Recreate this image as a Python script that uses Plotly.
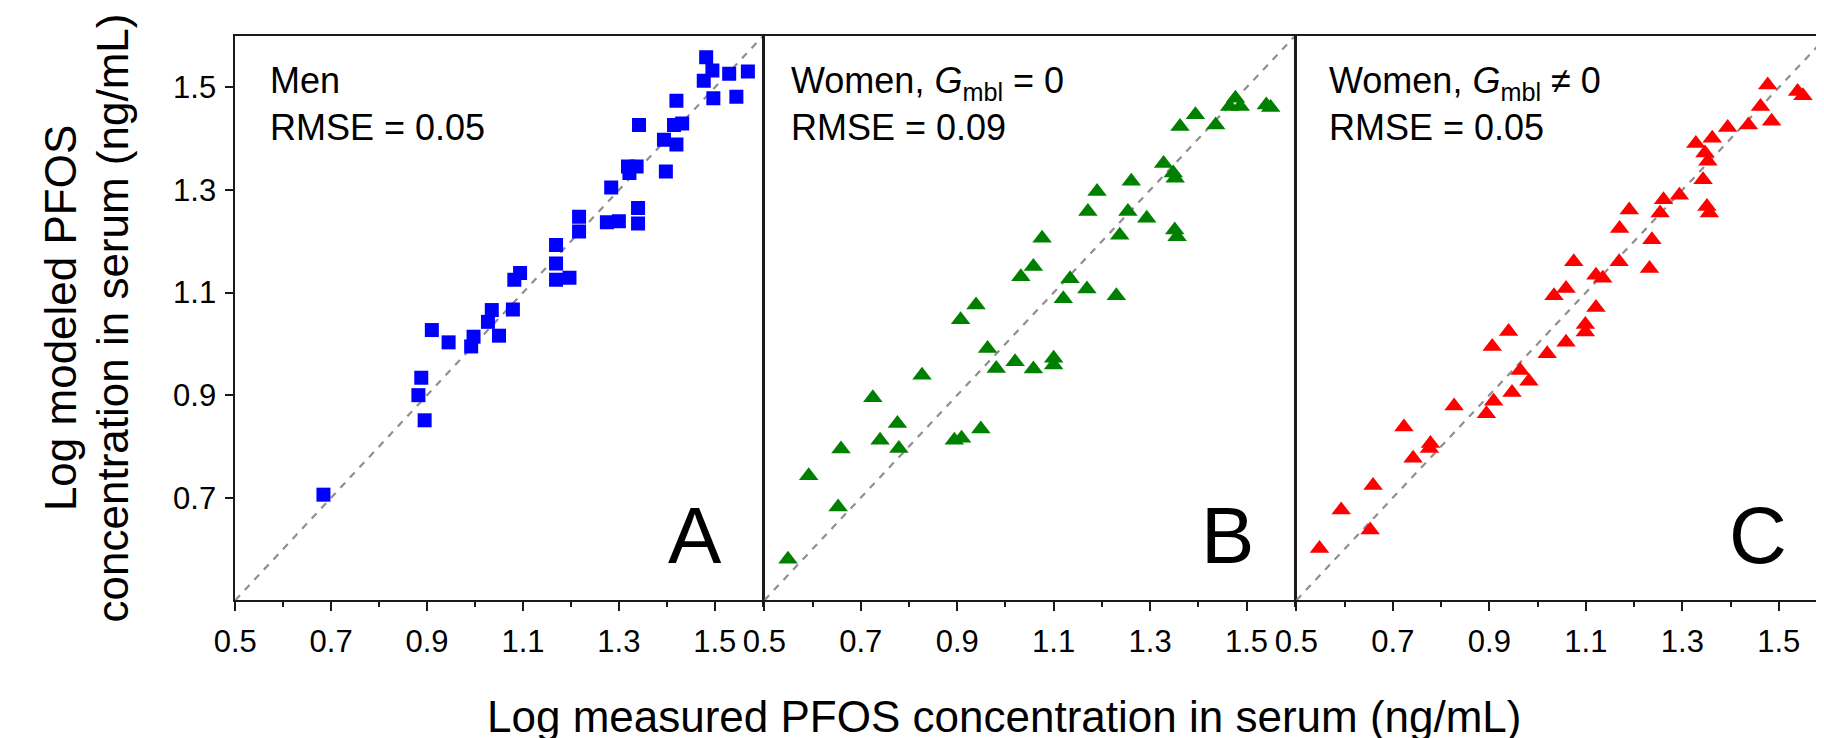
import plotly.graph_objects as go

# ---- data ----
men_x = [1.482,1.495,1.477,1.530,1.569,1.497,1.545,1.420,1.342,1.432,1.415,1.394,1.420,1.319,1.337,1.322,1.398,1.284,1.217,1.217,1.275,1.300,1.340,1.340,1.169,1.169,1.169,1.197,1.094,1.082,1.079,1.035,1.027,1.050,0.997,0.992,0.945,0.910,0.888,0.882,0.895,0.684]
men_y = [1.559,1.533,1.513,1.527,1.531,1.479,1.482,1.474,1.427,1.430,1.427,1.398,1.389,1.346,1.346,1.333,1.336,1.305,1.248,1.219,1.237,1.239,1.265,1.235,1.193,1.157,1.125,1.129,1.138,1.125,1.067,1.066,1.043,1.016,1.014,0.995,1.003,1.027,0.934,0.900,0.851,0.706]

wb_x = [1.477,1.465,1.487,1.541,1.550,1.394,1.362,1.436,1.328,1.348,1.352,1.261,1.190,1.171,1.254,1.293,1.237,1.351,1.356,1.076,1.058,1.032,1.134,1.169,1.120,1.230,0.939,0.907,
        0.963,0.981,1.020,1.058,1.100,1.100,0.827,0.725,0.776,0.740,0.779,0.894,0.909,0.949,0.659,0.592,0.653,0.549]
wb_y = [1.479,1.463,1.463,1.466,1.461,1.447,1.424,1.427,1.352,1.333,1.323,1.317,1.297,1.258,1.258,1.245,1.212,1.222,1.209,1.206,1.151,1.131,1.127,1.107,1.088,1.094,1.076,1.047,
        0.991,0.952,0.965,0.951,0.972,0.959,0.939,0.895,0.845,0.812,0.796,0.812,0.816,0.834,0.795,0.743,0.682,0.580]

wc_x = [1.477,1.539,1.550,1.462,1.485,1.437,1.394,1.362,1.328,1.347,1.353,1.343,1.294,1.261,1.254,1.351,1.356,1.190,1.170,1.237,1.075,1.169,1.232,1.121,1.135,1.059,1.034,1.121,1.099,1.099,0.940,
        0.906,1.059,1.020,0.964,0.982,0.947,0.909,0.894,0.827,0.723,0.778,0.776,0.742,0.659,0.593,0.653,0.548]
wc_y = [1.505,1.492,1.484,1.463,1.434,1.427,1.422,1.401,1.391,1.372,1.356,1.320,1.290,1.281,1.255,1.268,1.255,1.261,1.225,1.203,1.160,1.160,1.147,1.134,1.128,1.108,1.094,1.071,1.038,1.023,1.024,
        0.995,1.003,0.981,0.948,0.927,0.905,0.888,0.864,0.879,0.838,0.806,0.796,0.777,0.724,0.676,0.637,0.601]

identity = [0.5, 1.6]
x_major = [0.5, 0.7, 0.9, 1.1, 1.3, 1.5]
x_minor = [0.6, 0.8, 1.0, 1.2, 1.4, 1.6]
y_major = [0.7, 0.9, 1.1, 1.3, 1.5]
panel_letters = ["A", "B", "C"]
panel_labels = ["Men<br>RMSE = 0.05",
                "Women, <i>G</i><sub>mbl</sub> = 0<br>RMSE = 0.09",
                "Women, <i>G</i><sub>mbl</sub> \u2260 0<br>RMSE = 0.05"]

W, H = 1824, 738
FONT = "Liberation Sans, Arial, sans-serif"
LW = 1.6

# panel pixel geometry (shared borders overlap exactly)
right_edges = [741.7, 1280.2, 1819.0]
left_edges = [207.7, right_edges[0] + LW, right_edges[1] + LW]
top_px, bot_px = 28.2, 592.3

def px(x):
    return x / W

def py(y):
    return (H - y) / H

fig = go.Figure()

series = [(men_x, men_y, "square", "#0000FF", 14),
          (wb_x, wb_y, "triangle-up", "#008000", 17),
          (wc_x, wc_y, "triangle-up", "#FF0000", 17)]

for i, (xs, ys, sym, col, sz) in enumerate(series):
    xa = "x" if i == 0 else f"x{i+1}"
    ya = "y" if i == 0 else f"y{i+1}"
    fig.add_trace(go.Scatter(x=identity, y=identity, mode="lines", xaxis=xa, yaxis=ya,
                             line=dict(color="#8f8f8f", width=2.2, dash="7px,7px"),
                             showlegend=False, hoverinfo="skip"))
    fig.add_trace(go.Scatter(x=xs, y=ys, mode="markers", xaxis=xa, yaxis=ya,
                             marker=dict(symbol=sym, color=col, size=sz, line=dict(width=0)),
                             showlegend=False))

layout = dict(width=W, height=H, margin=dict(l=0, r=0, t=0, b=0),
              paper_bgcolor="white", plot_bgcolor="white",
              font=dict(family=FONT, color="black"))

for i in range(3):
    suffix = "" if i == 0 else str(i + 1)
    layout["xaxis" + suffix] = dict(
        domain=[px(left_edges[i]), px(right_edges[i])], range=[0.5, 1.6],
        anchor="y" + suffix, showgrid=False, zeroline=False,
        showline=True, mirror=True, linecolor="#1a1a1a", linewidth=LW,
        ticks="outside", ticklen=9, tickwidth=LW, tickcolor="#1a1a1a",
        tickvals=x_major, ticktext=[f"{v:.1f}" for v in x_major],
        ticklabelstandoff=4,
        tickfont=dict(size=31, family=FONT, color="black"),
        minor=dict(ticks="outside", ticklen=5, tickwidth=LW, tickcolor="#1a1a1a", tickvals=x_minor),
    )
    yax = dict(
        domain=[py(bot_px), py(top_px)], range=[0.5, 1.6],
        anchor="x" + suffix, showgrid=False, zeroline=False,
        showline=True, mirror=True, linecolor="#1a1a1a", linewidth=LW,
    )
    if i == 0:
        yax.update(ticks="outside", ticklen=8, tickwidth=LW, tickcolor="#1a1a1a",
                   tickvals=y_major, ticktext=[f"{v:.1f}" for v in y_major],
                   ticklabelstandoff=3,
                   tickfont=dict(size=31, family=FONT, color="black"))
    else:
        yax.update(ticks="", showticklabels=False)
    layout["yaxis" + suffix] = yax

annotations = []
label_lefts = [241, 768, 1313]
for i in range(3):
    annotations.append(dict(xref="paper", yref="paper", x=px(label_lefts[i]), y=py(50),
                            xanchor="left", yanchor="top", align="left", showarrow=False,
                            text=panel_labels[i], font=dict(size=36, family=FONT, color="black")))
    annotations.append(dict(xref="paper", yref="paper", x=px(right_edges[i] - 39), y=py(574),
                            xanchor="right", yanchor="bottom", showarrow=False,
                            text=panel_letters[i], font=dict(size=80, family=FONT, color="black")))

# axis titles
annotations.append(dict(xref="paper", yref="paper", x=px(461), y=py(735),
                        xanchor="left", yanchor="bottom", showarrow=False,
                        text="Log measured PFOS concentration in serum (ng/mL)",
                        font=dict(size=44, family=FONT, color="black")))
annotations.append(dict(xref="paper", yref="paper", x=px(31.5), y=py(310),
                        xanchor="center", yanchor="middle", showarrow=False, textangle=-90,
                        text="Log modeled PFOS", font=dict(size=44, family=FONT, color="black")))
annotations.append(dict(xref="paper", yref="paper", x=px(84.5), y=py(310),
                        xanchor="center", yanchor="middle", showarrow=False, textangle=-90,
                        text="concentration in serum (ng/mL)", font=dict(size=44, family=FONT, color="black")))
layout["annotations"] = annotations

fig.update_layout(**layout)
fig.write_html("out.html")
